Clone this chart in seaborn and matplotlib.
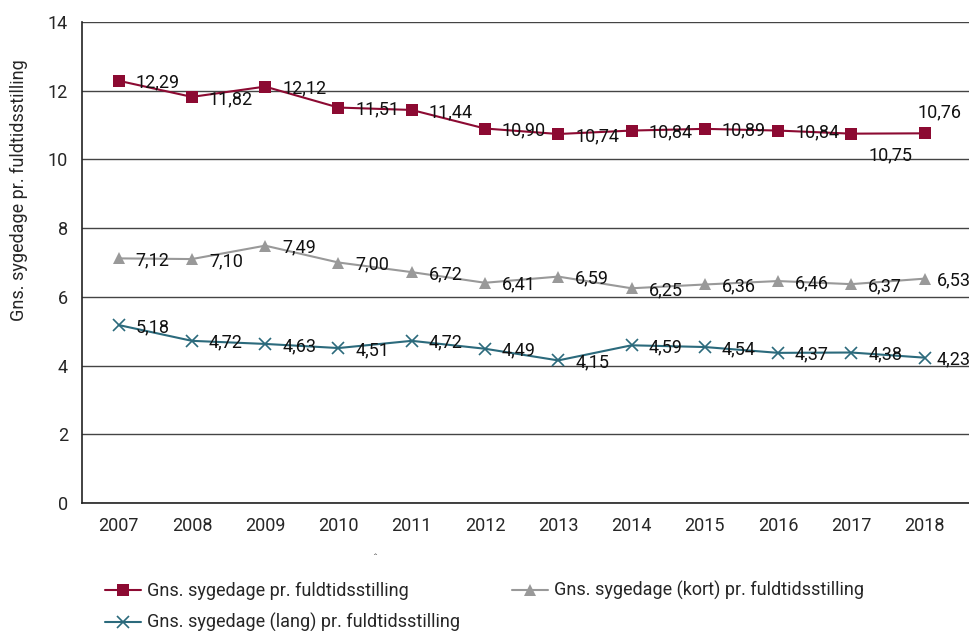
import matplotlib
matplotlib.use("Agg")
import matplotlib.pyplot as plt
import seaborn as sns
import pandas as pd

# --- data ---
years = [2007, 2008, 2009, 2010, 2011, 2012, 2013, 2014, 2015, 2016, 2017, 2018]
total = [12.29, 11.82, 12.12, 11.51, 11.44, 10.90, 10.74, 10.84, 10.89, 10.84, 10.75, 10.76]
short = [7.12, 7.10, 7.49, 7.00, 6.72, 6.41, 6.59, 6.25, 6.36, 6.46, 6.37, 6.53]
long_ = [5.18, 4.72, 4.63, 4.51, 4.72, 4.49, 4.15, 4.59, 4.54, 4.37, 4.38, 4.23]

name_total = "Gns. sygedage pr. fuldtidsstilling"
name_short = "Gns. sygedage (kort) pr. fuldtidsstilling"
name_long = "Gns. sygedage (lang) pr. fuldtidsstilling"
y_label = "Gns. sygedage pr. fuldtidsstilling"

sns.set_style("white")
plt.rcParams['font.family'] = ['Roboto', 'DejaVu Sans']
plt.rcParams['font.size'] = 13

c_red = "#8c0a32"
c_gray = "#999999"
c_blue = "#2b6a7c"

fig = plt.figure(figsize=(9.70, 6.31), dpi=100)
ax = fig.add_axes([82 / 970, 1 - 503 / 631, (970 - 82) / 970, (503 - 22) / 631])

df = pd.DataFrame({"year": years * 3,
                   "value": total + short + long_,
                   "serie": [name_total] * 12 + [name_short] * 12 + [name_long] * 12})

styles = {
    name_total: dict(color=c_red, marker="s", markersize=8, mew=0),
    name_short: dict(color=c_gray, marker="^", markersize=8, mew=0),
    name_long: dict(color=c_blue, marker="x", markersize=8, mew=1.2, mec=c_blue),
}
for name in [name_total, name_long, name_short]:
    sub = df[df["serie"] == name]
    sns.lineplot(data=sub, x="year", y="value", ax=ax, label=name,
                 linewidth=1.5, **styles[name])

# value labels
def fmt(v):
    return f"{v:.2f}".replace(".", ",")

for series in [total, short, long_]:
    for x, v in zip(years, series):
        dx, dy, ha = 17, -2, "left"
        if x == 2018:
            dx = 12
        if series is total and x == 2017:
            dx, dy = 17, -22
        if series is total and x == 2018:
            dx, dy, ha = 15, 21, "center"
        ax.annotate(fmt(v), (x, v), xytext=(dx, dy), textcoords="offset pixels",
                    ha=ha, va="center", fontsize=13, color="#111111")

ax.set_ylim(0, 14)
ax.set_yticks(range(0, 15, 2))
ax.set_xlim(2006.5, 2018.62)
ax.set_xticks(years)
ax.set_xticks([y + 0.5 for y in [2006] + years], minor=True)
ax.tick_params(axis="x", which="major", length=0, pad=10, labelsize=13)
ax.tick_params(axis="x", which="minor", length=5, width=1, color="#333333")
ax.tick_params(axis="y", length=6, width=1, color="#333333", labelsize=13, pad=4)
ax.grid(axis="y", color="#444444", linewidth=1)
ax.set_axisbelow(True)
for s in ["top", "right"]:
    ax.spines[s].set_visible(False)
for s in ["left", "bottom"]:
    ax.spines[s].set_color("#222222")
    ax.spines[s].set_linewidth(1.2)
ax.set_xlabel("")
ax.set_ylabel(y_label, fontsize=13)
ax.yaxis.set_label_coords(-0.061, 0.65)

ax.get_legend().remove()
handles, labels = ax.get_legend_handles_labels()
fig.legend(handles, labels, ncol=2, loc="upper left",
           bbox_to_anchor=(98 / 970, 1 - 574 / 631), frameon=False,
           fontsize=13, handlelength=2.0, handletextpad=0.3,
           columnspacing=2.9, labelspacing=0.72, borderaxespad=0)

fig.text(372 / 970, 1 - 562 / 631, "ˆ", fontsize=8, color="#555555")

fig.savefig("out.png", dpi=100)
